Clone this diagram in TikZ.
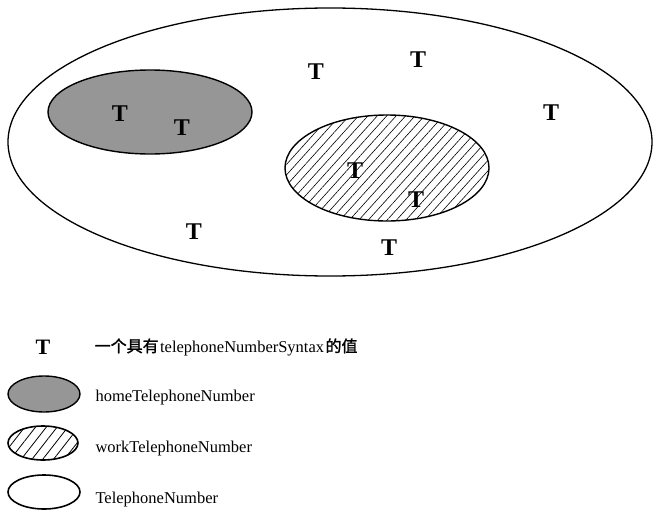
\documentclass[tikz,border=0pt]{standalone}
\usepackage{fontspec}
\setmainfont{Liberation Serif}
\newfontfamily\cjk[FakeBold=1.5]{Noto Sans CJK SC}
\usetikzlibrary{patterns.meta}
\begin{document}
\begin{tikzpicture}[x=1pt,y=-1pt,
  tee/.style={font=\fontsize{24}{24}\selectfont\bfseries},
  legtee/.style={font=\fontsize{22}{22}\selectfont\bfseries},
  legtext/.style={anchor=base west,font=\fontsize{16.5}{18}\selectfont},
  zhpart/.style={anchor=base west,inner xsep=0.5pt,font=\cjk\fontsize{16}{18}\selectfont},
  latpart/.style={anchor=base west,inner xsep=0.5pt,font=\fontsize{16.5}{18}\selectfont},
  homefill/.style={draw=black,line width=1.4pt,fill={rgb,255:red,150;green,150;blue,150}},
  workfill/.style={draw=black,line width=1.4pt,pattern={Lines[angle=48,distance=7pt,line width=0.6pt]}},
  legwork/.style={draw=black,line width=1.6pt,pattern={Lines[angle=52,distance=8.5pt,line width=0.8pt]}},
  plain/.style={draw=black,line width=1.3pt}]
\useasboundingbox (0,0) rectangle (653,514);
% main diagram
\draw[plain] (330,142) ellipse [x radius=322, y radius=134];
\draw[homefill] (150,112) ellipse [x radius=102, y radius=42];
\draw[workfill] (387,168) ellipse [x radius=102, y radius=53];
\node[tee] (t1) at (120,114) {T};
\node[tee] (t2) at (182,128) {T};
\node[tee] (t3) at (316,72) {T};
\node[tee] (t4) at (418,60) {T};
\node[tee] (t5) at (551,113) {T};
\node[tee] (t6) at (355,171) {T};
\node[tee] (t7) at (416,200) {T};
\node[tee] (t8) at (194,232) {T};
\node[tee] (t9) at (389,248) {T};
% legend
\node[legtee] (lt) at (43,347) {T};
\node[zhpart] (l1a) at (94,352) {一个具有};
\node[latpart] (l1b) at (l1a.base east) {telephoneNumberSyntax};
\node[zhpart] (l1c) at (l1b.base east) {的值};
\draw[homefill] (44,394) ellipse [x radius=36, y radius=18];
\node[legtext] (l2) at (92,401) {homeTelephoneNumber};
\draw[legwork] (43,443) ellipse [x radius=35, y radius=17];
\node[legtext] (l3) at (92,452) {workTelephoneNumber};
\draw[plain,line width=1.6pt] (44,492) ellipse [x radius=36, y radius=17];
\node[legtext] (l4) at (92,503) {TelephoneNumber};
\end{tikzpicture}
\end{document}
